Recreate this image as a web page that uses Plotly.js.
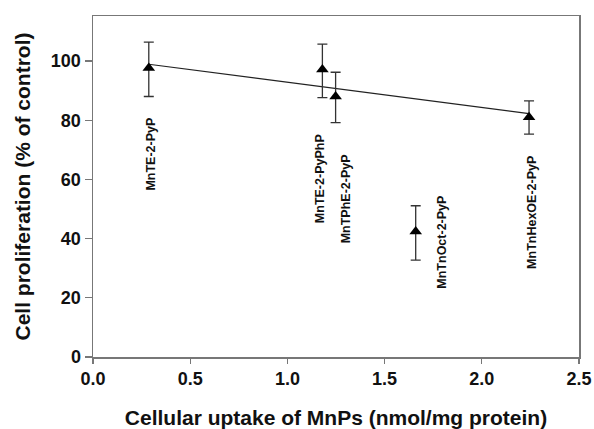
<!DOCTYPE html>
<html>
<head>
<meta charset="utf-8">
<script src="https://cdn.plot.ly/plotly-3.0.1.min.js"></script>
<style>html,body{margin:0;padding:0;background:#fff;}#chart{width:594px;height:429px;}</style>
</head>
<body>
<div id="chart"></div>
<script>
var compounds = ["MnTE-2-PyP", "MnTE-2-PyPhP", "MnTPhE-2-PyP", "MnTnOct-2-PyP", "MnTnHexOE-2-PyP"];
var uptake = [0.287, 1.18, 1.248, 1.66, 2.243];
var proliferation = [97.6, 97.1, 88.0, 42.4, 81.0];
var errPlus = [8.8, 8.6, 8.2, 8.7, 5.5];
var errMinus = [9.6, 9.5, 8.8, 9.7, 5.7];
var labelX = [0.298, 1.168, 1.30, 1.798, 2.258];
var labelY = [68.7, 60.1, 53.5, 38.8, 49.0];
var fitX = [0.287, 2.243];
var fitY = [98.9, 82.2];
var xTicks = [0, 0.5, 1.0, 1.5, 2.0, 2.5];
var xTickText = ["0.0", "0.5", "1.0", "1.5", "2.0", "2.5"];
var yTicks = [0, 20, 40, 60, 80, 100];
var yTickText = ["0", "20", "40", "60", "80", "100"];

var font = "Liberation Sans, Arial, sans-serif";

var traces = [
  {
    x: fitX, y: fitY, type: "scatter", mode: "lines",
    line: {color: "#222", width: 1.2}, hoverinfo: "skip"
  },
  {
    x: uptake, y: proliferation, type: "scatter", mode: "markers",
    marker: {symbol: "triangle-up", size: 11, color: "#000"},
    error_y: {type: "data", symmetric: false, array: errPlus, arrayminus: errMinus,
              color: "#333", thickness: 1.3, width: 5}
  }
];

var annotations = compounds.map(function(c, i) {
  return {
    x: labelX[i], y: labelY[i], xref: "x", yref: "y",
    text: c, showarrow: false, textangle: -90,
    xanchor: "center", yanchor: "middle",
    font: {family: font, size: 12.5, color: "#111", weight: "bold"}
  };
});

var layout = {
  width: 594, height: 429,
  margin: {l: 93, r: 15, t: 16, b: 72},
  paper_bgcolor: "#fff", plot_bgcolor: "#fff",
  showlegend: false,
  xaxis: {
    range: [0, 2.5], tickvals: xTicks, ticktext: xTickText,
    showgrid: false, zeroline: false,
    showline: true, linecolor: "#777", linewidth: 1.5, mirror: true,
    ticks: "outside", ticklen: 5, tickwidth: 1.2, tickcolor: "#777",
    tickfont: {family: font, size: 18, color: "#111", weight: "bold"},
    title: {text: "<b>Cellular uptake of MnPs (nmol/mg protein)</b>",
            font: {family: font, size: 21, color: "#111"}, standoff: 23}
  },
  yaxis: {
    range: [0, 115.2], tickvals: yTicks, ticktext: yTickText,
    showgrid: false, zeroline: false,
    showline: true, linecolor: "#777", linewidth: 1.5, mirror: true,
    ticks: "outside", ticklen: 7, tickwidth: 1.2, tickcolor: "#777",
    tickfont: {family: font, size: 18, color: "#111", weight: "bold"},
    title: {text: "<b>Cell proliferation (% of control)</b>",
            font: {family: font, size: 21, color: "#111"}, standoff: 14}
  },
  annotations: annotations
};

Plotly.newPlot("chart", traces, layout, {displayModeBar: false, staticPlot: true});
</script>
</body>
</html>
